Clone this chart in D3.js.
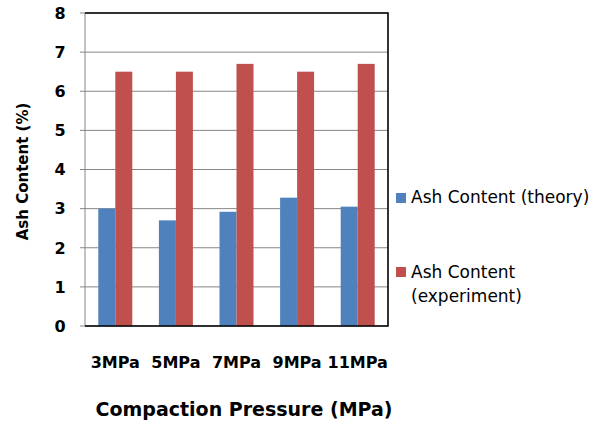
<!DOCTYPE html>
<html>
<head>
<meta charset="utf-8">
<script src="https://cdn.jsdelivr.net/npm/d3@7"></script>
<style>
  body { margin: 0; background: #fff; }
  svg { display: block; }
</style>
</head>
<body>
<svg id="chart" width="605" height="423"></svg>
<script>
// Ash content by compaction pressure
const categories = ["3MPa", "5MPa", "7MPa", "9MPa", "11MPa"];
const theory = [3.0, 2.7, 2.92, 3.28, 3.05];
const experiment = [6.5, 6.5, 6.7, 6.5, 6.7];
const seriesNames = ["Ash Content (theory)", "Ash Content (experiment)"];
const yTicks = [0, 1, 2, 3, 4, 5, 6, 7, 8];

const colors = ["#4f81bd", "#c0504d"];
const font = "'DejaVu Sans', sans-serif";

const svg = d3.select("#chart");
const plot = { left: 85, top: 13, right: 388, bottom: 326 };

const x = d3.scaleBand().domain(categories).range([plot.left, plot.right]).paddingInner(0).paddingOuter(0);
const y = d3.scaleLinear().domain([0, 8]).range([plot.bottom, plot.top]);
const barW = 17;

// gridlines
svg.append("g").selectAll("line").data(yTicks).join("line")
  .attr("x1", plot.left - 5).attr("x2", plot.right)
  .attr("y1", d => y(d)).attr("y2", d => y(d))
  .attr("stroke", "#868686").attr("stroke-width", 1);

// y axis line
svg.append("line").attr("x1", plot.left).attr("x2", plot.left)
  .attr("y1", plot.top).attr("y2", plot.bottom)
  .attr("stroke", "#868686");

// bars
const groups = svg.append("g").selectAll("g").data(categories).join("g");
groups.append("rect")
  .attr("x", d => x(d) + x.bandwidth() / 2 - barW)
  .attr("width", barW)
  .attr("y", (d, i) => y(theory[i]))
  .attr("height", (d, i) => y(0) - y(theory[i]))
  .attr("fill", colors[0]);
groups.append("rect")
  .attr("x", d => x(d) + x.bandwidth() / 2)
  .attr("width", barW)
  .attr("y", (d, i) => y(experiment[i]))
  .attr("height", (d, i) => y(0) - y(experiment[i]))
  .attr("fill", colors[1]);

// frame on top, right and bottom
svg.append("path")
  .attr("d", `M${plot.left},${plot.top}H${plot.right}V${plot.bottom}H${plot.left}`)
  .attr("fill", "none").attr("stroke", "#000").attr("stroke-width", 1.6);

// y tick labels
svg.append("g").selectAll("text").data(yTicks).join("text")
  .attr("x", 60).attr("y", d => y(d)).attr("dy", "0.36em")
  .attr("text-anchor", "middle")
  .style("font-family", font).style("font-size", "16px").style("font-weight", "bold")
  .text(d => d);

// x tick labels
svg.append("g").selectAll("text").data(categories).join("text")
  .attr("x", d => x(d) + x.bandwidth() / 2).attr("y", 368)
  .attr("text-anchor", "middle")
  .style("font-family", font).style("font-size", "16px").style("font-weight", "bold")
  .text(d => d);

// axis titles
svg.append("text")
  .attr("transform", `translate(28,${(plot.top + plot.bottom) / 2 + 2}) rotate(-90)`)
  .attr("text-anchor", "middle")
  .style("font-family", font).style("font-size", "15px").style("font-weight", "bold")
  .text("Ash Content (%)");

svg.append("text")
  .attr("x", 244).attr("y", 416)
  .attr("text-anchor", "middle")
  .style("font-family", font).style("font-size", "19px").style("font-weight", "bold")
  .text("Compaction Pressure (MPa)");

// legend
const legend = svg.append("g");
legend.append("rect").attr("x", 396).attr("y", 193).attr("width", 10).attr("height", 10).attr("fill", colors[0]);
legend.append("text").attr("x", 411).attr("y", 203)
  .style("font-family", font).style("font-size", "17px")
  .text(seriesNames[0]);
legend.append("rect").attr("x", 396).attr("y", 267).attr("width", 10).attr("height", 10).attr("fill", colors[1]);
legend.append("text").attr("x", 411).attr("y", 278)
  .style("font-family", font).style("font-size", "17px")
  .text("Ash Content");
legend.append("text").attr("x", 411).attr("y", 302)
  .style("font-family", font).style("font-size", "17px")
  .text("(experiment)");
</script>
</body>
</html>
